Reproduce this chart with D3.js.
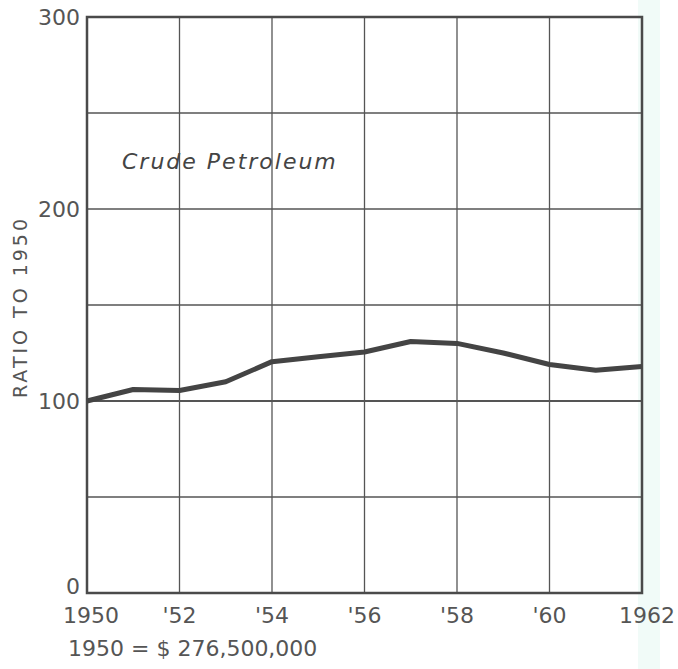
<!DOCTYPE html>
<html>
<head>
<meta charset="utf-8">
<script src="https://cdn.jsdelivr.net/npm/d3@7"></script>
<style>
  body { margin: 0; background: #fff; }
  text { font-family: "DejaVu Sans", sans-serif; fill: #555; }
</style>
</head>
<body>
<svg id="chart"></svg>
<script>
var width = 678,
	height = 669;

// data
var years = [1950, 1951, 1952, 1953, 1954, 1955, 1956, 1957, 1958, 1959, 1960, 1961, 1962];
var ratio = [100, 106, 105.5, 110, 120.5, 123, 125.5, 131, 130, 125, 119, 116, 118];
var yTicks = [0, 100, 200, 300];
var yGrid = [50, 100, 150, 200, 250];
var xTicks = [1950, 1952, 1954, 1956, 1958, 1960, 1962];
var xTickLabels = ["1950", "'52", "'54", "'56", "'58", "'60", "1962"];

var margin = { left: 87, right: 36, top: 17, bottom: 76 };

var svg = d3.select("#chart").attr("width", width).attr("height", height);

// faint scan tint on the right
svg.append("rect")
	.attr("x", 638).attr("y", 0)
	.attr("width", 22).attr("height", height)
	.style("fill", "#f1fbf8");

var x = d3.scaleLinear().domain([1950, 1962]).range([margin.left, width - margin.right]);
var y = d3.scaleLinear().domain([0, 300]).range([height - margin.bottom, margin.top]);

// grid
svg.append("g")
	.selectAll("line")
	.data(yGrid)
	.enter()
	.append("line")
	.attr("x1", x(1950)).attr("x2", x(1962))
	.attr("y1", function (d) { return y(d); })
	.attr("y2", function (d) { return y(d); })
	.style("stroke", "#555")
	.style("stroke-width", function (d) { return d == 100 ? 2 : 1.3; });

svg.append("g")
	.selectAll("line")
	.data(xTicks.slice(1, -1))
	.enter()
	.append("line")
	.attr("y1", y(0)).attr("y2", y(300))
	.attr("x1", function (d) { return x(d); })
	.attr("x2", function (d) { return x(d); })
	.style("stroke", "#555")
	.style("stroke-width", 1.3);

// frame
svg.append("rect")
	.attr("x", x(1950)).attr("y", y(300))
	.attr("width", x(1962) - x(1950))
	.attr("height", y(0) - y(300))
	.style("fill", "none")
	.style("stroke", "#4a4a4a")
	.style("stroke-width", 2.5);

// line
var line = d3.line()
	.x(function (d, i) { return x(years[i]); })
	.y(function (d) { return y(d); });

svg.append("path")
	.datum(ratio)
	.attr("d", line)
	.style("fill", "none")
	.style("stroke", "#444")
	.style("stroke-width", 5)
	.style("stroke-linejoin", "round");

// y tick labels ("0" sits a bit higher so it clears the year label)
svg.append("g")
	.selectAll("text")
	.data(yTicks)
	.enter()
	.append("text")
	.attr("x", 80)
	.attr("y", function (d) { return y(d) + (d == 0 ? 1 : 8); })
	.attr("text-anchor", "end")
	.style("font-size", "22px")
	.text(function (d) { return d; });

// x tick labels
svg.append("g")
	.selectAll("text")
	.data(xTicks)
	.enter()
	.append("text")
	.attr("x", function (d, i) { return x(d) + (i == 0 ? 4 : i == xTicks.length - 1 ? 5 : 0); })
	.attr("y", 623)
	.attr("text-anchor", "middle")
	.style("font-size", "22px")
	.text(function (d, i) { return xTickLabels[i]; });

// axis title
svg.append("text")
	.attr("transform", "translate(27," + 307 + ") rotate(-90)")
	.attr("text-anchor", "middle")
	.style("font-size", "19px")
	.style("letter-spacing", "3px")
	.text("RATIO TO 1950");

// series name
svg.append("text")
	.attr("x", 122)
	.attr("y", 169)
	.style("font-size", "22px")
	.style("font-style", "italic")
	.style("letter-spacing", "2px")
	.style("fill", "#444")
	.text("Crude  Petroleum");

// base value note
svg.append("text")
	.attr("x", 68)
	.attr("y", 656)
	.style("font-size", "22px")
	.text("1950 = $ 276,500,000");
</script>
</body>
</html>
